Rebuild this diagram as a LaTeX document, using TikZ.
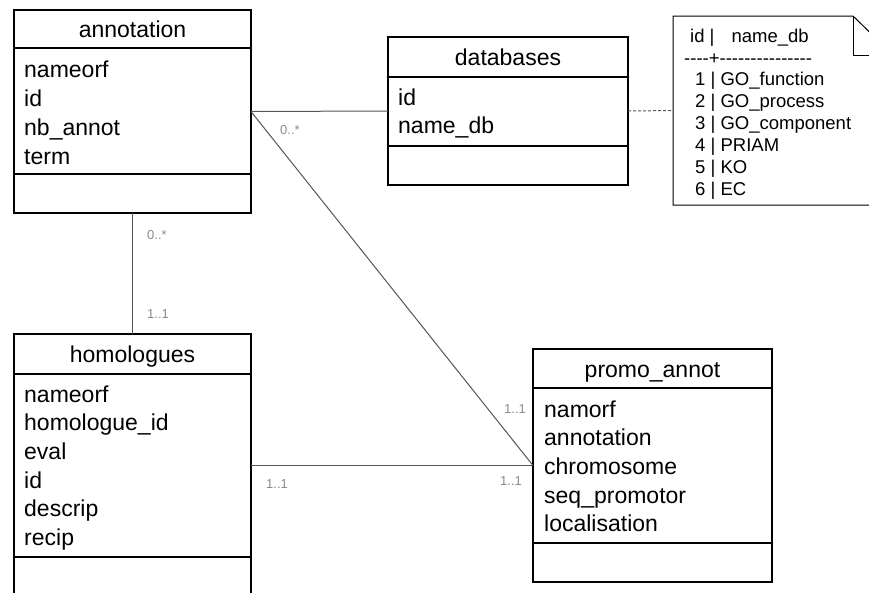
\documentclass[tikz,border=0pt]{standalone}
\usepackage{fontspec}
\setmainfont{Liberation Sans}
\definecolor{linkgray}{HTML}{555555}
\definecolor{labelgray}{HTML}{8A8A8A}
% a run of separate hyphens, kept apart so no dash ligature forms
\newcommand{\hyph}{\mbox{-}}

\begin{document}
\begin{tikzpicture}[x=1pt,y=-1pt,
  classbox/.style={draw, line width=1.1pt, anchor=north west, inner sep=0pt, outer sep=0pt},
  sep/.style={line width=1.1pt},
  classtitle/.style={font=\fontsize{23}{27}\selectfont, anchor=base, inner sep=0pt},
  attr/.style={font=\fontsize{23}{27}\selectfont, anchor=base west, inner sep=0pt},
  link/.style={draw=linkgray, line width=1pt},
  mult/.style={font=\fontsize{13}{15}\selectfont, text=labelgray, anchor=base west, inner sep=0pt},
  notetext/.style={font=\fontsize{18.5}{21}\selectfont, anchor=base west, inner sep=0pt}]
\useasboundingbox (0,0) rectangle (869,592);

% ---- class: annotation
\node[classbox, minimum width=237pt, minimum height=203pt] (annotation) at (14,10) {};
\draw[sep] (14,48) -- (251,48);
\draw[sep] (14,174) -- (251,174);
\node[classtitle] (annotation-title) at (132.5,37) {annotation};
\node[attr] (annotation-a1) at (24,77) {nameorf};
\node[attr] (annotation-a2) at (24,106) {id};
\node[attr] (annotation-a3) at (24,135) {nb\_annot};
\node[attr] (annotation-a4) at (24,164) {term};

% ---- class: databases
\node[classbox, minimum width=240pt, minimum height=148pt] (databases) at (388,37) {};
\draw[sep] (388,77) -- (628,77);
\draw[sep] (388,146) -- (628,146);
\node[classtitle] (databases-title) at (508,65) {databases};
\node[attr] (databases-a1) at (398,105) {id};
\node[attr] (databases-a2) at (398,133) {name\_db};

% ---- class: homologues
\node[classbox, minimum width=237pt, minimum height=263pt] (homologues) at (14,334) {};
\draw[sep] (14,374) -- (251,374);
\draw[sep] (14,557) -- (251,557);
\node[classtitle] (homologues-title) at (132.5,362) {homologues};
\node[attr] (homologues-a1) at (24,402) {nameorf};
\node[attr] (homologues-a2) at (24,430.7) {homologue\_id};
\node[attr] (homologues-a3) at (24,459.4) {eval};
\node[attr] (homologues-a4) at (24,488.1) {id};
\node[attr] (homologues-a5) at (24,516.8) {descrip};
\node[attr] (homologues-a6) at (24,545.5) {recip};

% ---- class: promo_annot
\node[classbox, minimum width=239pt, minimum height=233pt] (promo) at (533,349) {};
\draw[sep] (533,388) -- (772,388);
\draw[sep] (533,543) -- (772,543);
\node[classtitle] (promo-title) at (652.5,377) {promo\_annot};
\node[attr] (promo-a1) at (544,417) {namorf};
\node[attr] (promo-a2) at (544,445.7) {annotation};
\node[attr] (promo-a3) at (544,474.4) {chromosome};
\node[attr] (promo-a4) at (544,503.1) {seq\_promotor};
\node[attr] (promo-a5) at (544,531.8) {localisation};

% ---- note with folded corner
\node[minimum width=220pt, minimum height=189pt, anchor=north west, inner sep=0pt, outer sep=0pt] (note) at (673,16) {};
\draw[line width=1pt] (note.north west) -- (853,16) -- (893,55) -- (893,205) -- (note.south west) -- cycle;
\draw[line width=1pt] (853,16) -- (853,55) -- (893,55);
\node[notetext] (note-h1) at (690,42) {id |\hspace{17pt}name\_db};
\node[notetext] (note-h2) at (684,64) {\hyph\hyph\hyph\hyph+\hyph\hyph\hyph\hyph\hyph\hyph\hyph\hyph\hyph\hyph\hyph\hyph\hyph\hyph\hyph};
\node[notetext] (note-r1) at (695,85.5) {1 | GO\_function};
\node[notetext] (note-r2) at (695,107.5) {2 | GO\_process};
\node[notetext] (note-r3) at (695,129.5) {3 | GO\_component};
\node[notetext] (note-r4) at (695,151.5) {4 | PRIAM};
\node[notetext] (note-r5) at (695,173.5) {5 | KO};
\node[notetext] (note-r6) at (695,195.5) {6 | EC};

% ---- associations
\draw[link] (annotation.east) -- (databases.west);
\draw[link] (annotation.east) -- (promo.west);
\draw[link] (annotation.south) -- (homologues.north);
\draw[link] (homologues.east) -- (promo.west);
\draw[link, dash pattern=on 3pt off 2pt] (databases.east) -- (note.west);

% ---- multiplicities
\node[mult] (m1) at (280,134) {0..*};
\node[mult] (m2) at (147,239) {0..*};
\node[mult] (m3) at (147,318) {1..1};
\node[mult] (m4) at (266,488) {1..1};
\node[mult] (m5) at (504,413) {1..1};
\node[mult] (m6) at (500,485) {1..1};
\end{tikzpicture}
\end{document}
